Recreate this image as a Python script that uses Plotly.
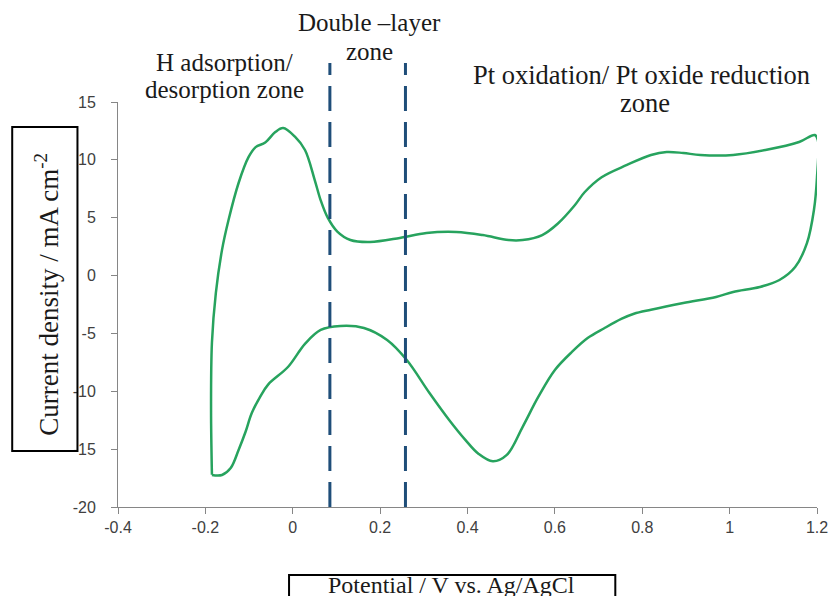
import plotly.graph_objects as go

# Cyclic voltammogram of Pt, one closed loop:
# anodic sweep from -0.19 V up to 1.2 V, then cathodic sweep back.
potential_v = [
    -0.185, -0.187, -0.185, -0.176, -0.162, -0.147, -0.124, -0.101, -0.085, -0.063,
    -0.040, -0.022, 0.005, 0.028, 0.050, 0.064, 0.080, 0.102, 0.132, 0.177,
    0.245, 0.306, 0.374, 0.435, 0.494, 0.526, 0.571, 0.607, 0.646, 0.668,
    0.707, 0.765, 0.820, 0.856, 0.894, 0.933, 1.008, 1.082, 1.159, 1.195,
    1.202, 1.200, 1.193, 1.177, 1.150, 1.114, 1.069, 1.008, 0.969, 0.894,
    0.820, 0.781, 0.752, 0.713, 0.675, 0.639, 0.600, 0.562, 0.526, 0.490,
    0.458, 0.425, 0.395, 0.358, 0.313, 0.261, 0.216, 0.163, 0.109, 0.064,
    0.028, -0.011, -0.056, -0.075, -0.094, -0.108, -0.124, -0.142, -0.162, -0.185,
]
current_ma_cm2 = [
    -17.2, -11.6, -5.8, -1.5, 2.2, 4.8, 8.0, 10.25, 11.1, 11.5,
    12.4, 12.75, 12.0, 10.85, 8.3, 6.5, 5.0, 3.8, 3.07, 2.9,
    3.25, 3.68, 3.77, 3.5, 3.07, 3.07, 3.5, 4.5, 6.1, 7.2,
    8.5, 9.56, 10.42, 10.68, 10.59, 10.42, 10.42, 10.85, 11.54, 12.15,
    11.7, 8.5, 5.67, 2.8, 0.74, -0.38, -0.99, -1.42, -1.85, -2.37,
    -2.95, -3.3, -3.75, -4.55, -5.4, -6.6, -8.16, -10.49, -13.09, -15.5,
    -16.05, -15.4, -14.2, -12.48, -10.15, -7.3, -5.57, -4.53, -4.36, -4.7,
    -5.9, -7.9, -9.4, -10.5, -11.9, -13.5, -15.07, -16.63, -17.23, -17.23,
]

# Boundaries between the H, double-layer and Pt-oxide regions
zone_bounds_v = [0.085, 0.258]

x_ticks = [-0.4, -0.2, 0, 0.2, 0.4, 0.6, 0.8, 1, 1.2]
x_tick_text = ["-0.4", "-0.2", "0", "0.2", "0.4", "0.6", "0.8", "1", "1.2"]
y_ticks = [-20, -15, -10, -5, 0, 5, 10, 15]
y_tick_text = ["-20", "-15", "-10", "-5", "0", "5", "10", "15"]

# Zone captions, one entry per text line: (text, centre x px, centre y px, size)
zone_lines = [
    ("H adsorption/", 226, 62, 25),
    ("desorption zone", 226, 89, 25),
    ("Double \u2013layer", 372, 23, 25),
    ("zone", 372, 52, 25),
    ("Pt oxidation/ Pt oxide reduction", 647, 75, 26.5),
    ("zone", 651, 103, 26.5),
]

W, H = 840, 596
ML, MR, MT, MB = 118, 15, 102, 89
PW, PH = W - ML - MR, H - MT - MB

def px_x(px):
    return (px - ML) / PW

def px_y(py):
    return (H - MB - py) / PH

SERIF = "Liberation Serif"
SANS = "Liberation Sans"
AXIS_GREY = "#868686"
TEXT = "#1a1a1a"

fig = go.Figure()
fig.add_trace(go.Scatter(
    x=potential_v, y=current_ma_cm2,
    mode="lines",
    line=dict(color="#27a35e", width=2.5, shape="spline", smoothing=1.0),
    hoverinfo="skip", showlegend=False,
))

for xv in zone_bounds_v:
    fig.add_shape(
        type="line", xref="x", yref="paper",
        x0=xv, x1=xv, y0=0, y1=px_y(63),
        line=dict(color="#1f4e79", width=3, dash="25px,11px"),
    )

for text, cx, cy, size in zone_lines:
    fig.add_annotation(
        text=text, xref="paper", yref="paper",
        x=px_x(cx), y=px_y(cy), xanchor="center", yanchor="middle",
        showarrow=False, align="center",
        font=dict(family=SERIF, size=size, color=TEXT),
    )

# Boxed axis titles
fig.add_shape(
    type="rect", xref="paper", yref="paper",
    x0=px_x(11), x1=px_x(77), y0=px_y(451), y1=px_y(127),
    line=dict(color="black", width=2), fillcolor="rgba(0,0,0,0)",
)
fig.add_annotation(
    text="Current density / mA cm<sup>-2</sup>",
    xref="paper", yref="paper", x=px_x(46), y=px_y(294),
    xanchor="center", yanchor="middle", textangle=-90, showarrow=False,
    font=dict(family=SERIF, size=27, color=TEXT),
)
fig.add_shape(
    type="rect", xref="paper", yref="paper",
    x0=px_x(291), x1=px_x(621), y0=px_y(610), y1=px_y(575),
    line=dict(color="black", width=2), fillcolor="rgba(0,0,0,0)",
)
fig.add_annotation(
    text="Potential / V vs. Ag/AgCl",
    xref="paper", yref="paper", x=px_x(455), y=px_y(585),
    xanchor="center", yanchor="middle", showarrow=False,
    font=dict(family=SERIF, size=24, color=TEXT),
)

fig.update_xaxes(
    range=[-0.4, 1.2], tickvals=x_ticks, ticktext=x_tick_text,
    showgrid=False, zeroline=False, showline=True, linecolor=AXIS_GREY, linewidth=1,
    ticks="outside", ticklen=6, tickcolor=AXIS_GREY,
    tickfont=dict(family=SANS, size=16, color="#404040"),
)
fig.update_yaxes(
    range=[-20, 15], tickvals=y_ticks, ticktext=y_tick_text,
    showgrid=False, zeroline=False, showline=True, linecolor=AXIS_GREY, linewidth=1,
    ticks="outside", ticklen=6, tickcolor=AXIS_GREY,
    tickfont=dict(family=SANS, size=16, color="#404040"),
    ticklabelstandoff=12,
)
fig.update_layout(
    width=W, height=H,
    margin=dict(l=ML, r=MR, t=MT, b=MB),
    paper_bgcolor="white", plot_bgcolor="white",
    showlegend=False,
)

fig.write_html("out.html")
